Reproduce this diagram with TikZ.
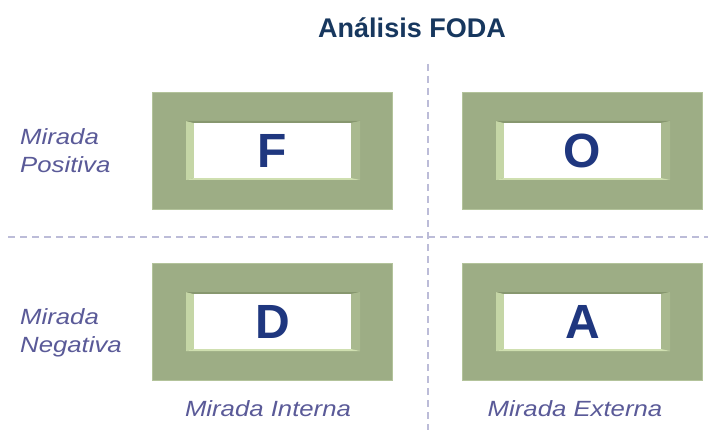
\documentclass[tikz,border=0pt]{standalone}
\usepackage{fontspec}
\setmainfont{Liberation Sans}
\usetikzlibrary{calc}
\definecolor{boxgreen}{HTML}{9DAD85}
\definecolor{boxedge}{HTML}{B3C39B}
\definecolor{bevtop}{HTML}{87976F}
\definecolor{bevleft}{HTML}{C5D6A6}
\definecolor{bevright}{HTML}{A9B98F}
\definecolor{bevbot}{HTML}{CFDFB0}
\definecolor{lettercol}{HTML}{1F377F}
\definecolor{titlecol}{HTML}{17375E}
\definecolor{labelcol}{HTML}{5A5A98}
\definecolor{dashcol}{HTML}{BCBCD8}
\tikzset{
  outerbox/.style={fill=boxgreen, draw=boxedge, line width=0.8pt, minimum width=240pt, minimum height=117pt, inner sep=0pt, anchor=north west},
  innerbox/.style={fill=white, minimum width=157pt, minimum height=55pt, inner sep=0pt, text=lettercol, font=\fontsize{48}{48}\selectfont\bfseries},
  sidelabel/.style={anchor=base west, inner sep=0pt, text=labelcol, font=\fontsize{22}{28}\selectfont\itshape},
  bottomlabel/.style={anchor=base, inner sep=0pt, text=labelcol, font=\fontsize{22}{28}\selectfont\itshape},
  divider/.style={draw=dashcol, line width=1.2pt, dash pattern=on 7pt off 5pt}
}
\newcommand\FodaBox[4]{%
  \begin{scope}[shift={(#2,#3)}]
    \node[outerbox] (#1) at (0,0) {};
    \fill[bevleft] (34,29) -- (42,31) -- (42,86) -- (34,88) -- cycle;
    \fill[bevtop] (34,29) -- (208,29) -- (199,31) -- (42,31) -- cycle;
    \fill[bevright] (208,29) -- (208,88) -- (199,86) -- (199,31) -- cycle;
    \fill[bevbot] (34,88) -- (208,88) -- (199,86) -- (42,86) -- cycle;
    \node[innerbox] (#1-in) at (120.5,58.5) {#4};
  \end{scope}}
\begin{document}
\begin{tikzpicture}[x=1pt,y=-1pt]
  \useasboundingbox[fill=white] (0,0) rectangle (708,430);
  % dividers
  \coordinate (vtop) at (428,64);
  \coordinate (vbot) at (428,430);
  \coordinate (hleft) at (8,237);
  \coordinate (hright) at (708,237);
  \draw[divider] (vtop) -- (vbot);
  \draw[divider] (hleft) -- (hright);
  % title
  \node[anchor=base, inner sep=0pt, text=titlecol, font=\fontsize{27}{27}\selectfont\bfseries] (title) at (412,38) {Análisis FODA};
  % boxes
  \FodaBox{F}{152}{92}{F}
  \FodaBox{O}{462}{92}{O}
  \FodaBox{D}{152}{263}{D}
  \FodaBox{A}{462}{263}{A}
  % side labels
  \node[sidelabel] (pos1) at (20,145) {\scalebox{1.17}[1]{Mirada}};
  \node[sidelabel] (pos2) at (20,173) {\scalebox{1.17}[1]{Positiva}};
  \node[sidelabel] (neg1) at (20,324) {\scalebox{1.17}[1]{Mirada}};
  \node[sidelabel] (neg2) at (20,352) {\scalebox{1.17}[1]{Negativa}};
  % bottom labels
  \node[bottomlabel] (interna) at (268,416) {\scalebox{1.17}[1]{Mirada Interna}};
  \node[bottomlabel] (externa) at (575,416) {\scalebox{1.17}[1]{Mirada Externa}};
\end{tikzpicture}
\end{document}
